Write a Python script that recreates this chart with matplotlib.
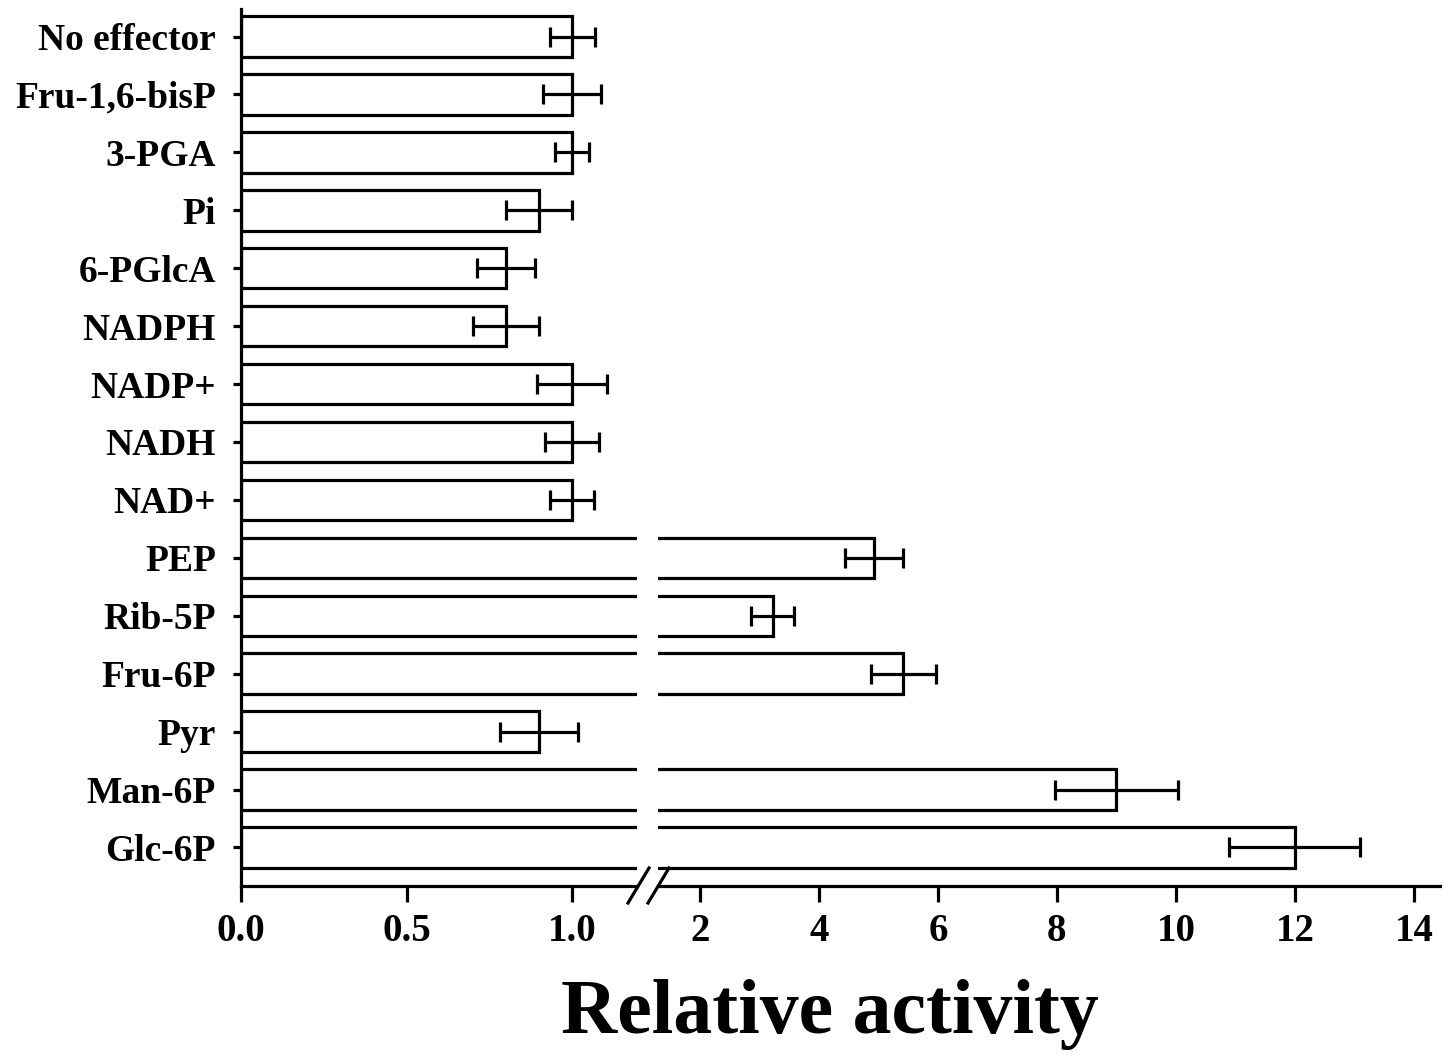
"""
Broken-axis bar chart: relative activity per effector
"""

import matplotlib
matplotlib.use("Agg")
import matplotlib.pyplot as plt
from matplotlib.lines import Line2D

plt.rcParams['font.family'] = ['Liberation Serif', 'DejaVu Serif']
plt.rcParams['font.weight'] = 'bold'

# Data
effectors = ["No effector", "Fru-1,6-bisP", "3-PGA", "Pi", "6-PGlcA", "NADPH",
             "NADP+", "NADH", "NAD+", "PEP", "Rib-5P", "Fru-6P", "Pyr",
             "Man-6P", "Glc-6P"]
activity = [1.0, 1.0, 1.0, 0.9, 0.8, 0.8, 1.0, 1.0, 1.0,
            4.92, 3.22, 5.42, 0.9, 9.0, 12.0]
errors = [0.068, 0.087, 0.051, 0.10, 0.087, 0.099, 0.106, 0.082, 0.066,
          0.49, 0.36, 0.54, 0.118, 1.03, 1.1]
left_ticks = [0.0, 0.5, 1.0]
left_ticklabels = ["0.0", "0.5", "1.0"]
right_ticks = [2, 4, 6, 8, 10, 12, 14]

W, H = 1450, 1059
fig = plt.figure(figsize=(W / 100, H / 100), dpi=100)

bottom = 1 - 886 / H
top = 1 - 9 / H
ax1 = fig.add_axes([241 / W, bottom, (637 - 241) / W, top - bottom])
ax2 = fig.add_axes([658 / W, bottom, (1440 - 658) / W, top - bottom])

ypos = list(range(len(effectors)))
lw = 2.3

for ax in (ax1, ax2):
    ax.barh(ypos, activity, height=0.7, color="white", edgecolor="black",
            linewidth=lw, zorder=2)
    ax.errorbar(activity, ypos, xerr=errors, fmt="none", ecolor="black",
                elinewidth=lw, capsize=7, capthick=lw, zorder=3)
    ax.set_ylim(14.665, -0.475)
    for s in ("top", "right"):
        ax.spines[s].set_visible(False)
    ax.spines["bottom"].set_linewidth(lw)
    ax.tick_params(axis="x", direction="out", length=11.5, width=lw,
                   labelsize=28, pad=8)

ax1.set_xlim(0, 1.196)
ax1.set_xticks(left_ticks)
ax1.set_xticklabels(left_ticklabels)
ax1.spines["left"].set_linewidth(lw)
ax1.set_yticks(ypos)
ax1.set_yticklabels(effectors)
ax1.tick_params(axis="y", direction="out", length=6, width=lw,
                labelsize=27, pad=12)

ax2.set_xlim(1.294, 14.44)
ax2.set_xticks(right_ticks)
ax2.spines["left"].set_visible(False)
ax2.set_yticks([])

# break marks
for x0 in (628, 648):
    fig.add_artist(Line2D([x0 / W, (x0 + 21) / W], [1 - 903 / H, 1 - 868 / H],
                          color="black", linewidth=lw))

fig.text(830 / W, 1 - 1033 / H, "Relative activity", ha="center",
         va="baseline", fontsize=56, fontweight="bold")

fig.savefig("out.png", dpi=100)
